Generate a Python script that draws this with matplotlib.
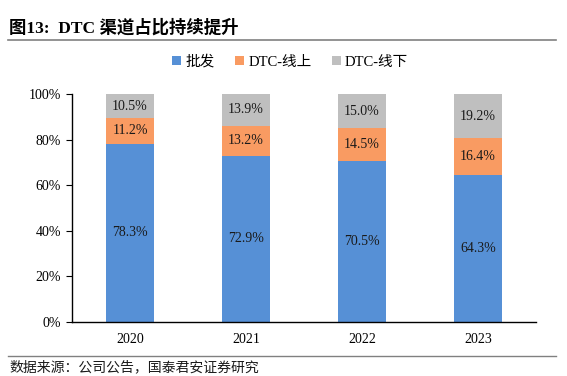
import matplotlib
matplotlib.use("Agg")
import matplotlib.pyplot as plt
import numpy as np

plt.rcParams["font.family"] = ["Liberation Serif", "Noto Sans CJK SC"]

years = ["2020", "2021", "2022", "2023"]
wholesale = [78.3, 72.9, 70.5, 64.3]
dtc_online = [11.2, 13.2, 14.5, 16.4]
dtc_offline = [10.5, 13.9, 15.0, 19.2]

series = [
    ("批发", wholesale, "#5690D6"),
    ("DTC-线上", dtc_online, "#F99B62"),
    ("DTC-线下", dtc_offline, "#BFBFBF"),
]

fig = plt.figure(figsize=(5.67, 3.76), dpi=100)
ax = fig.add_axes([0.127, 0.1436, 0.818, 0.606])

x = np.arange(len(years))
bottom = np.zeros(len(years))
for name, vals, col in series:
    vals = np.array(vals)
    ax.bar(x, vals, bottom=bottom, width=0.41, color=col, label=name)
    for xi, b, v in zip(x, bottom, vals):
        ax.text(xi, b + v / 2, f"{v:.1f}%", ha="center", va="center",
                fontsize=10, color="#1a1a1a")
    bottom += vals

ax.set_xlim(-0.5, len(years) - 0.5)
ax.set_ylim(0, 100)
ax.set_yticks(range(0, 101, 20))
ax.set_yticklabels([f"{t}%" for t in range(0, 101, 20)], fontsize=10)
ax.set_xticks(x)
ax.set_xticklabels(years, fontsize=10)
ax.tick_params(axis="x", length=0, pad=8)
ax.tick_params(axis="y", length=4, direction="out", pad=4)
for s in ["top", "right"]:
    ax.spines[s].set_visible(False)
ax.spines["left"].set_linewidth(1.0)
ax.spines["bottom"].set_linewidth(1.0)

ax.legend(loc="center", bbox_to_anchor=(0.512, 0.835), bbox_transform=fig.transFigure,
          ncol=3, frameon=False, fontsize=10.5, handlelength=0.6, handleheight=0.6,
          handletextpad=0.3, columnspacing=1.4)

fig.text(0.016, 0.925, "图13:  DTC 渠道占比持续提升", fontsize=12.5, fontweight="bold",
         ha="left", va="center")
fig.add_artist(plt.Line2D([0.014, 0.98], [0.893, 0.893], color="#808080", lw=1.2))
fig.add_artist(plt.Line2D([0.014, 0.98], [0.052, 0.052], color="#808080", lw=1.0))
fig.text(0.016, 0.022, "数据来源：公司公告，国泰君安证券研究", fontsize=10,
         ha="left", va="center", color="#1a1a1a")

fig.savefig("out.png", dpi=100)
